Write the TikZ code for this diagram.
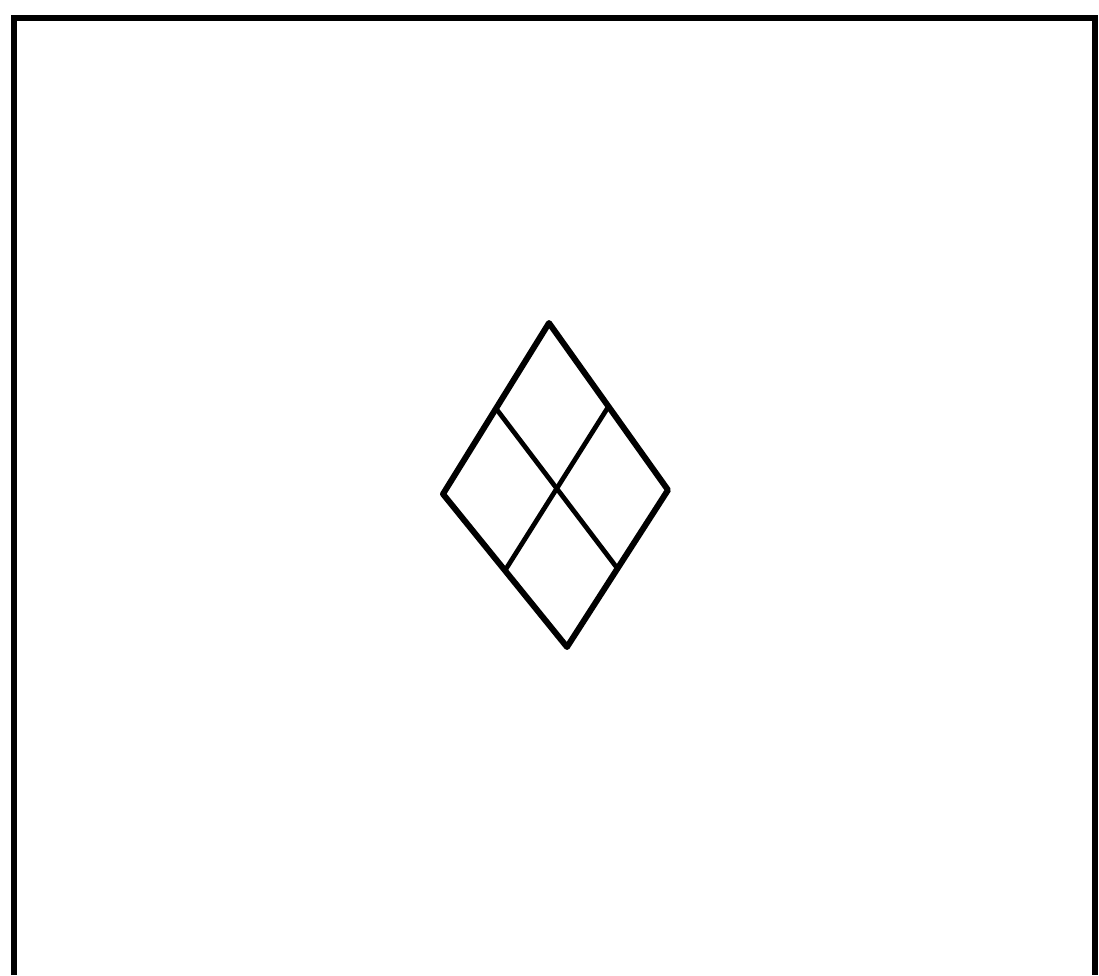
\documentclass[tikz,border=0pt]{standalone}
\usepackage{tikz}
\usetikzlibrary{calc}

\tikzset{
  frameline/.style={black, line width=3.8pt, line cap=butt},
  rimline/.style={black, line width=3.4pt, line join=round, line cap=round},
  splitline/.style={black, line width=2.7pt, line cap=round}
}

\begin{document}
\begin{tikzpicture}[x=0.02cm, y=-0.02cm]

\useasboundingbox (0,0) rectangle (1099,975);

% Frame (open at the bottom)
\draw[frameline] (14,975) -- (14,18) -- (1095,18) -- (1095,975);

% Diamond corners
\coordinate (top) at (549,323);
\coordinate (left) at (443,494);
\coordinate (right) at (668,490);
\coordinate (bottom) at (567,647);

% Outline
\draw[rimline] (top) -- (right) -- (bottom) -- (left) -- cycle;

% Dividing lines
\draw[splitline] ($(top)!0.5!(left)$) -- ($(right)!0.5!(bottom)$);
\draw[splitline] ($(top)!0.5!(right)$) -- ($(left)!0.5!(bottom)$);

\end{tikzpicture}
\end{document}
